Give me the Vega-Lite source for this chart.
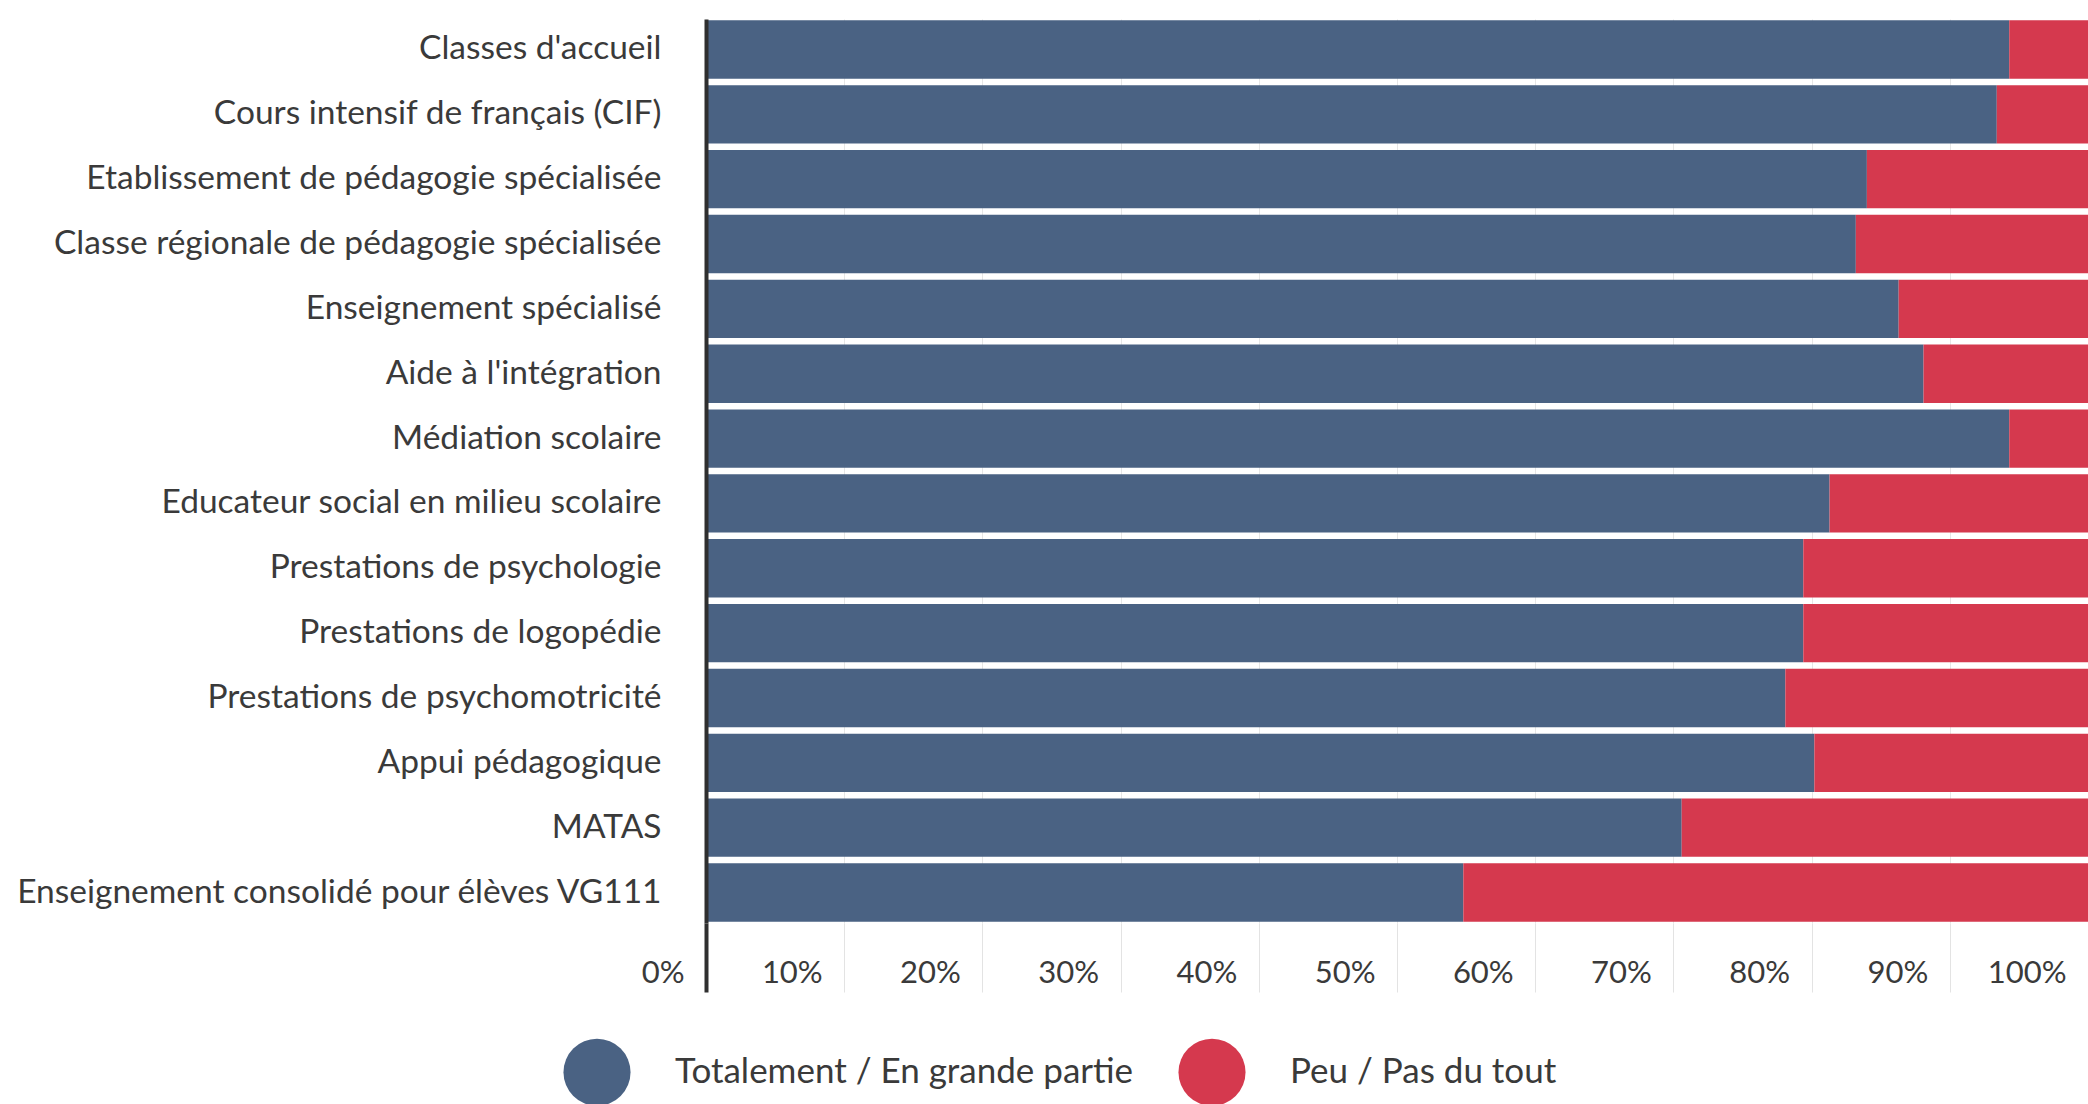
{
  "$schema": "https://vega.github.io/schema/vega-lite/v6.json",
  "autosize": "none",
  "width": 1382,
  "height": 904,
  "padding": {"left": 706, "top": 19, "right": 0, "bottom": 181},
  "background": "white",
  "config": {
    "view": {"stroke": null},
    "font": "Lato",
    "axis": {"labelFont": "Lato", "labelColor": "#3a3a3a"},
    "legend": {"labelFont": "Lato", "labelColor": "#3a3a3a"}
  },
  "data": {
    "values": [
      {"category": "Classes d'accueil", "response": "Totalement / En grande partie", "value": 94.3, "ord": 1},
      {"category": "Classes d'accueil", "response": "Peu / Pas du tout", "value": 5.7, "ord": 2},
      {"category": "Cours intensif de français (CIF)", "response": "Totalement / En grande partie", "value": 93.4, "ord": 1},
      {"category": "Cours intensif de français (CIF)", "response": "Peu / Pas du tout", "value": 6.6, "ord": 2},
      {"category": "Etablissement de pédagogie spécialisée", "response": "Totalement / En grande partie", "value": 84.0, "ord": 1},
      {"category": "Etablissement de pédagogie spécialisée", "response": "Peu / Pas du tout", "value": 16.0, "ord": 2},
      {"category": "Classe régionale de pédagogie spécialisée", "response": "Totalement / En grande partie", "value": 83.2, "ord": 1},
      {"category": "Classe régionale de pédagogie spécialisée", "response": "Peu / Pas du tout", "value": 16.8, "ord": 2},
      {"category": "Enseignement spécialisé", "response": "Totalement / En grande partie", "value": 86.3, "ord": 1},
      {"category": "Enseignement spécialisé", "response": "Peu / Pas du tout", "value": 13.7, "ord": 2},
      {"category": "Aide à l'intégration", "response": "Totalement / En grande partie", "value": 88.1, "ord": 1},
      {"category": "Aide à l'intégration", "response": "Peu / Pas du tout", "value": 11.9, "ord": 2},
      {"category": "Médiation scolaire", "response": "Totalement / En grande partie", "value": 94.3, "ord": 1},
      {"category": "Médiation scolaire", "response": "Peu / Pas du tout", "value": 5.7, "ord": 2},
      {"category": "Educateur social en milieu scolaire", "response": "Totalement / En grande partie", "value": 81.3, "ord": 1},
      {"category": "Educateur social en milieu scolaire", "response": "Peu / Pas du tout", "value": 18.7, "ord": 2},
      {"category": "Prestations de psychologie", "response": "Totalement / En grande partie", "value": 79.4, "ord": 1},
      {"category": "Prestations de psychologie", "response": "Peu / Pas du tout", "value": 20.6, "ord": 2},
      {"category": "Prestations de logopédie", "response": "Totalement / En grande partie", "value": 79.4, "ord": 1},
      {"category": "Prestations de logopédie", "response": "Peu / Pas du tout", "value": 20.6, "ord": 2},
      {"category": "Prestations de psychomotricité", "response": "Totalement / En grande partie", "value": 78.1, "ord": 1},
      {"category": "Prestations de psychomotricité", "response": "Peu / Pas du tout", "value": 21.9, "ord": 2},
      {"category": "Appui pédagogique", "response": "Totalement / En grande partie", "value": 80.2, "ord": 1},
      {"category": "Appui pédagogique", "response": "Peu / Pas du tout", "value": 19.8, "ord": 2},
      {"category": "MATAS", "response": "Totalement / En grande partie", "value": 70.6, "ord": 1},
      {"category": "MATAS", "response": "Peu / Pas du tout", "value": 29.4, "ord": 2},
      {"category": "Enseignement consolidé pour élèves VG111", "response": "Totalement / En grande partie", "value": 54.8, "ord": 1},
      {"category": "Enseignement consolidé pour élèves VG111", "response": "Peu / Pas du tout", "value": 45.2, "ord": 2}
    ]
  },
  "mark": {"type": "bar"},
  "encoding": {
    "y": {
      "field": "category",
      "type": "nominal",
      "sort": null,
      "title": null,
      "scale": {"paddingInner": 0.1, "paddingOuter": 0.02},
      "axis": {
        "ticks": false,
        "labelFontSize": 33.5,
        "labelPadding": 45,
        "labelLimit": 800,
        "labelDy": 2,
        "domainColor": "#2f2f2f",
        "domainWidth": 4,
        "zindex": 1
      }
    },
    "x": {
      "field": "value",
      "type": "quantitative",
      "stack": "normalize",
      "title": null,
      "scale": {"domain": [0, 1], "nice": false},
      "axis": {
        "values": [0, 0.1, 0.2, 0.3, 0.4, 0.5, 0.6, 0.7, 0.8, 0.9, 1],
        "format": ".0%",
        "domain": false,
        "grid": true,
        "gridColor": "#e6e6e6",
        "gridWidth": 1,
        "tickSize": 69,
        "tickColor": {"condition": {"test": "datum.value === 0", "value": "#2f2f2f"}, "value": "#e3e3e3"},
        "tickWidth": {"condition": {"test": "datum.value === 0", "value": 4}, "value": 1},
        "labelAlign": "right",
        "labelOffset": -22,
        "labelBaseline": "middle",
        "labelPadding": -19,
        "labelFontSize": 31
      }
    },
    "color": {
      "field": "response",
      "type": "nominal",
      "sort": ["Totalement / En grande partie", "Peu / Pas du tout"],
      "scale": {"domain": ["Totalement / En grande partie", "Peu / Pas du tout"], "range": ["#4a6283", "#d5394e"]},
      "legend": {
        "title": null,
        "orient": "none",
        "direction": "horizontal",
        "legendX": -143,
        "legendY": 1019,
        "symbolType": "circle",
        "symbolSize": 4500,
        "symbolStrokeWidth": 0,
        "symbolOpacity": 1,
        "labelFontSize": 35,
        "labelLimit": 800,
        "labelOffset": 44,
        "columnPadding": 44,
        "padding": 0
      }
    },
    "order": {"field": "ord", "type": "quantitative"}
  }
}
